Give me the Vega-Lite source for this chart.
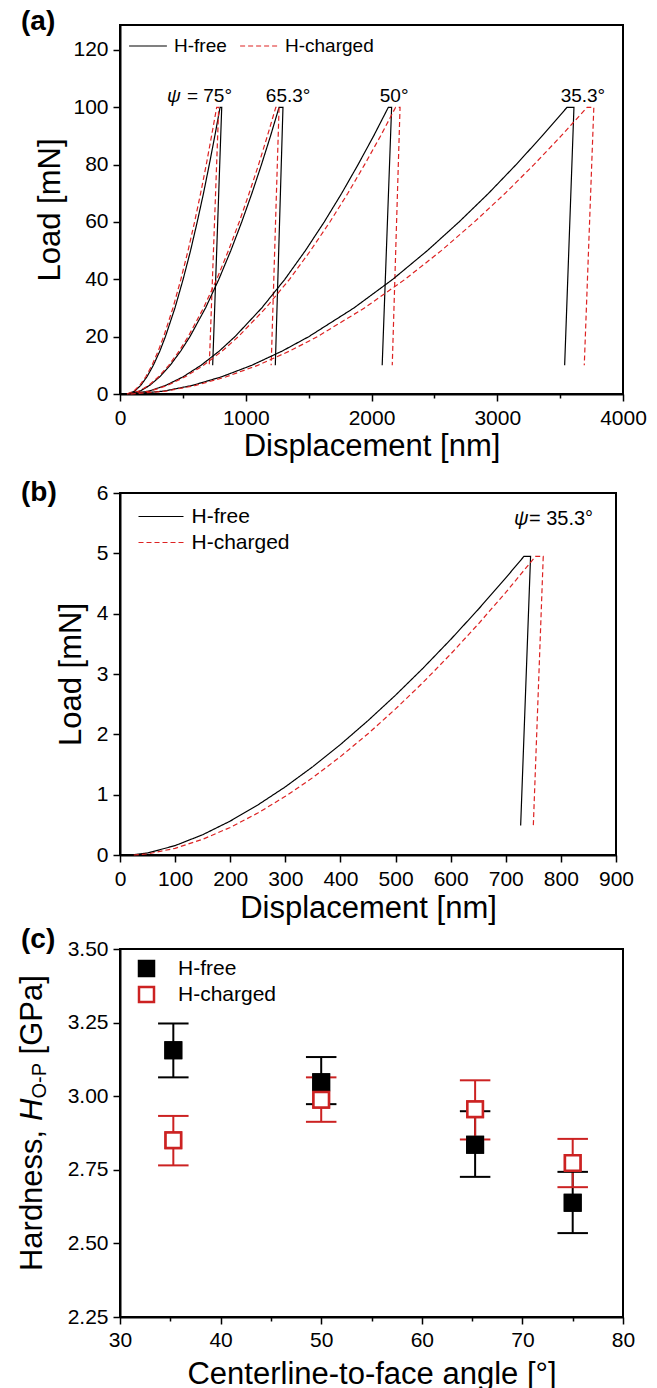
{
"$schema": "https://vega.github.io/schema/vega-lite/v6.json",
"padding": {"left": 16, "top": 7, "right": 5, "bottom": 0},
"config": {
  "font": "Liberation Sans",
  "view": {"stroke": "black", "strokeWidth": 2},
  "axis": {"domainColor": "black", "domainWidth": 2, "tickColor": "black", "tickWidth": 1.5, "labelColor": "black", "titleColor": "black", "labelFont": "Liberation Sans", "titleFont": "Liberation Sans", "labelFontSize": 21, "titleFontSize": 31, "titleFontWeight": "normal", "grid": false, "labelOverlap": false, "labelFlush": false, "labelPadding": 5},
  "legend": {"labelFont": "Liberation Sans", "labelColor": "black", "padding": 0},
  "text": {"font": "Liberation Sans", "color": "black"}
},
"bounds": "flush",
"spacing": 99,
"resolve": {"scale": {"x": "independent", "y": "independent", "color": "independent", "strokeDash": "independent", "fill": "independent", "stroke": "independent"}, "legend": {"color": "independent", "strokeDash": "independent", "fill": "independent", "stroke": "independent"}},
"vconcat": [
{
  "width": 503, "height": 369,
  "data": {"values": [
    {"s":"H-free","a":75,"i":0,"h":60,"P":0},{"s":"H-free","a":75,"i":1,"h":117,"P":1},{"s":"H-free","a":75,"i":2,"h":165,"P":3},{"s":"H-free","a":75,"i":3,"h":214,"P":6},{"s":"H-free","a":75,"i":4,"h":265,"P":10},{"s":"H-free","a":75,"i":5,"h":317,"P":15},{"s":"H-free","a":75,"i":6,"h":361,"P":20},{"s":"H-free","a":75,"i":7,"h":437,"P":30},{"s":"H-free","a":75,"i":8,"h":502,"P":40},{"s":"H-free","a":75,"i":9,"h":561,"P":50},{"s":"H-free","a":75,"i":10,"h":614,"P":60},{"s":"H-free","a":75,"i":11,"h":664,"P":70},{"s":"H-free","a":75,"i":12,"h":710,"P":80},{"s":"H-free","a":75,"i":13,"h":754,"P":90},{"s":"H-free","a":75,"i":14,"h":796,"P":100},{"s":"H-free","a":75,"i":15,"h":809,"P":100},{"s":"H-free","a":75,"i":16,"h":737,"P":10},
    {"s":"H-charged","a":75,"i":0,"h":55,"P":0},{"s":"H-charged","a":75,"i":1,"h":110,"P":1},{"s":"H-charged","a":75,"i":2,"h":157,"P":3},{"s":"H-charged","a":75,"i":3,"h":205,"P":6},{"s":"H-charged","a":75,"i":4,"h":254,"P":10},{"s":"H-charged","a":75,"i":5,"h":304,"P":15},{"s":"H-charged","a":75,"i":6,"h":347,"P":20},{"s":"H-charged","a":75,"i":7,"h":421,"P":30},{"s":"H-charged","a":75,"i":8,"h":484,"P":40},{"s":"H-charged","a":75,"i":9,"h":541,"P":50},{"s":"H-charged","a":75,"i":10,"h":593,"P":60},{"s":"H-charged","a":75,"i":11,"h":641,"P":70},{"s":"H-charged","a":75,"i":12,"h":686,"P":80},{"s":"H-charged","a":75,"i":13,"h":728,"P":90},{"s":"H-charged","a":75,"i":14,"h":769,"P":100},{"s":"H-charged","a":75,"i":15,"h":785,"P":100},{"s":"H-charged","a":75,"i":16,"h":710,"P":10},
    {"s":"H-free","a":65.3,"i":0,"h":65,"P":0},{"s":"H-free","a":65.3,"i":1,"h":158,"P":1},{"s":"H-free","a":65.3,"i":2,"h":236,"P":3},{"s":"H-free","a":65.3,"i":3,"h":316,"P":6},{"s":"H-free","a":65.3,"i":4,"h":399,"P":10},{"s":"H-free","a":65.3,"i":5,"h":483,"P":15},{"s":"H-free","a":65.3,"i":6,"h":556,"P":20},{"s":"H-free","a":65.3,"i":7,"h":680,"P":30},{"s":"H-free","a":65.3,"i":8,"h":786,"P":40},{"s":"H-free","a":65.3,"i":9,"h":881,"P":50},{"s":"H-free","a":65.3,"i":10,"h":968,"P":60},{"s":"H-free","a":65.3,"i":11,"h":1049,"P":70},{"s":"H-free","a":65.3,"i":12,"h":1125,"P":80},{"s":"H-free","a":65.3,"i":13,"h":1197,"P":90},{"s":"H-free","a":65.3,"i":14,"h":1265,"P":100},{"s":"H-free","a":65.3,"i":15,"h":1296,"P":100},{"s":"H-free","a":65.3,"i":16,"h":1235,"P":10},
    {"s":"H-charged","a":65.3,"i":0,"h":60,"P":0},{"s":"H-charged","a":65.3,"i":1,"h":151,"P":1},{"s":"H-charged","a":65.3,"i":2,"h":228,"P":3},{"s":"H-charged","a":65.3,"i":3,"h":307,"P":6},{"s":"H-charged","a":65.3,"i":4,"h":388,"P":10},{"s":"H-charged","a":65.3,"i":5,"h":471,"P":15},{"s":"H-charged","a":65.3,"i":6,"h":542,"P":20},{"s":"H-charged","a":65.3,"i":7,"h":664,"P":30},{"s":"H-charged","a":65.3,"i":8,"h":769,"P":40},{"s":"H-charged","a":65.3,"i":9,"h":862,"P":50},{"s":"H-charged","a":65.3,"i":10,"h":948,"P":60},{"s":"H-charged","a":65.3,"i":11,"h":1027,"P":70},{"s":"H-charged","a":65.3,"i":12,"h":1102,"P":80},{"s":"H-charged","a":65.3,"i":13,"h":1172,"P":90},{"s":"H-charged","a":65.3,"i":14,"h":1239,"P":100},{"s":"H-charged","a":65.3,"i":15,"h":1265,"P":100},{"s":"H-charged","a":65.3,"i":16,"h":1202,"P":10},
    {"s":"H-free","a":50,"i":0,"h":70,"P":0},{"s":"H-free","a":50,"i":1,"h":230,"P":1},{"s":"H-free","a":50,"i":2,"h":364,"P":3},{"s":"H-free","a":50,"i":3,"h":502,"P":6},{"s":"H-free","a":50,"i":4,"h":644,"P":10},{"s":"H-free","a":50,"i":5,"h":790,"P":15},{"s":"H-free","a":50,"i":6,"h":914,"P":20},{"s":"H-free","a":50,"i":7,"h":1127,"P":30},{"s":"H-free","a":50,"i":8,"h":1311,"P":40},{"s":"H-free","a":50,"i":9,"h":1474,"P":50},{"s":"H-free","a":50,"i":10,"h":1624,"P":60},{"s":"H-free","a":50,"i":11,"h":1763,"P":70},{"s":"H-free","a":50,"i":12,"h":1893,"P":80},{"s":"H-free","a":50,"i":13,"h":2017,"P":90},{"s":"H-free","a":50,"i":14,"h":2134,"P":100},{"s":"H-free","a":50,"i":15,"h":2160,"P":100},{"s":"H-free","a":50,"i":16,"h":2085,"P":10},
    {"s":"H-charged","a":50,"i":0,"h":75,"P":0},{"s":"H-charged","a":50,"i":1,"h":239,"P":1},{"s":"H-charged","a":50,"i":2,"h":377,"P":3},{"s":"H-charged","a":50,"i":3,"h":519,"P":6},{"s":"H-charged","a":50,"i":4,"h":664,"P":10},{"s":"H-charged","a":50,"i":5,"h":813,"P":15},{"s":"H-charged","a":50,"i":6,"h":941,"P":20},{"s":"H-charged","a":50,"i":7,"h":1159,"P":30},{"s":"H-charged","a":50,"i":8,"h":1348,"P":40},{"s":"H-charged","a":50,"i":9,"h":1515,"P":50},{"s":"H-charged","a":50,"i":10,"h":1669,"P":60},{"s":"H-charged","a":50,"i":11,"h":1812,"P":70},{"s":"H-charged","a":50,"i":12,"h":1945,"P":80},{"s":"H-charged","a":50,"i":13,"h":2072,"P":90},{"s":"H-charged","a":50,"i":14,"h":2192,"P":100},{"s":"H-charged","a":50,"i":15,"h":2227,"P":100},{"s":"H-charged","a":50,"i":16,"h":2165,"P":10},
    {"s":"H-free","a":35.3,"i":0,"h":80,"P":0},{"s":"H-free","a":35.3,"i":1,"h":349,"P":1},{"s":"H-free","a":35.3,"i":2,"h":576,"P":3},{"s":"H-free","a":35.3,"i":3,"h":808,"P":6},{"s":"H-free","a":35.3,"i":4,"h":1047,"P":10},{"s":"H-free","a":35.3,"i":5,"h":1291,"P":15},{"s":"H-free","a":35.3,"i":6,"h":1501,"P":20},{"s":"H-free","a":35.3,"i":7,"h":1860,"P":30},{"s":"H-free","a":35.3,"i":8,"h":2169,"P":40},{"s":"H-free","a":35.3,"i":9,"h":2444,"P":50},{"s":"H-free","a":35.3,"i":10,"h":2696,"P":60},{"s":"H-free","a":35.3,"i":11,"h":2931,"P":70},{"s":"H-free","a":35.3,"i":12,"h":3150,"P":80},{"s":"H-free","a":35.3,"i":13,"h":3357,"P":90},{"s":"H-free","a":35.3,"i":14,"h":3555,"P":100},{"s":"H-free","a":35.3,"i":15,"h":3610,"P":100},{"s":"H-free","a":35.3,"i":16,"h":3536,"P":10},
    {"s":"H-charged","a":35.3,"i":0,"h":85,"P":0},{"s":"H-charged","a":35.3,"i":1,"h":366,"P":1},{"s":"H-charged","a":35.3,"i":2,"h":603,"P":3},{"s":"H-charged","a":35.3,"i":3,"h":845,"P":6},{"s":"H-charged","a":35.3,"i":4,"h":1095,"P":10},{"s":"H-charged","a":35.3,"i":5,"h":1350,"P":15},{"s":"H-charged","a":35.3,"i":6,"h":1570,"P":20},{"s":"H-charged","a":35.3,"i":7,"h":1944,"P":30},{"s":"H-charged","a":35.3,"i":8,"h":2267,"P":40},{"s":"H-charged","a":35.3,"i":9,"h":2555,"P":50},{"s":"H-charged","a":35.3,"i":10,"h":2818,"P":60},{"s":"H-charged","a":35.3,"i":11,"h":3063,"P":70},{"s":"H-charged","a":35.3,"i":12,"h":3292,"P":80},{"s":"H-charged","a":35.3,"i":13,"h":3508,"P":90},{"s":"H-charged","a":35.3,"i":14,"h":3715,"P":100},{"s":"H-charged","a":35.3,"i":15,"h":3768,"P":100},{"s":"H-charged","a":35.3,"i":16,"h":3692,"P":10}
  ]},
  "layer": [
    {
      "mark": {"type": "line", "strokeWidth": 1.2},
      "encoding": {
        "x": {"field": "h", "type": "quantitative", "scale": {"domain": [0, 4000], "nice": false, "zero": false},
              "axis": {"title": "Displacement [nm]", "values": [0,500,1000,1500,2000,2500,3000,3500,4000], "format": "d", "labelExpr": "datum.value % 1000 == 0 ? datum.label : ''", "tickSize": {"condition": {"test": "datum.value % 1000 != 0", "value": 4}, "value": 7}, "labelPadding": 6, "titlePadding": 3}},
        "y": {"field": "P", "type": "quantitative", "scale": {"domain": [0, 128.7], "nice": false},
              "axis": {"title": "Load [mN]", "values": [0,10,20,30,40,50,60,70,80,90,100,110,120], "format": "d", "labelExpr": "datum.value % 20 == 0 ? datum.label : ''", "tickSize": {"condition": {"test": "datum.value % 20 != 0", "value": 4}, "value": 7}, "titlePadding": 6}},
        "color": {"field": "s", "type": "nominal", "scale": {"domain": ["H-free", "H-charged"], "range": ["black", "#dd2222"]},
                  "legend": {"orient": "none", "legendX": 8, "legendY": 11, "direction": "horizontal", "title": null, "symbolType": "M-2.1,0H2.1", "symbolSize": 324, "symbolOffset": 10, "labelOffset": 16, "labelFontSize": 19, "symbolStrokeWidth": 1.2, "columnPadding": 10}},
        "strokeDash": {"field": "s", "type": "nominal", "scale": {"domain": ["H-free", "H-charged"], "range": [[1, 0], [5, 3]]},
                  "legend": {"orient": "none", "legendX": 8, "legendY": 11, "direction": "horizontal", "title": null, "symbolType": "M-2.1,0H2.1", "symbolSize": 324, "symbolOffset": 10, "labelOffset": 16, "labelFontSize": 19, "symbolStrokeWidth": 1.2, "columnPadding": 10}},
        "detail": {"field": "a", "type": "nominal"},
        "order": {"field": "i", "type": "quantitative"}
      }
    },
    {
      "data": {"values": [{"h": 374, "P": 102, "t": "ψ"}]},
      "mark": {"type": "text", "fontStyle": "italic", "fontSize": 19, "align": "left", "baseline": "alphabetic"},
      "encoding": {"x": {"field": "h", "type": "quantitative"}, "y": {"field": "P", "type": "quantitative"}, "text": {"field": "t"}}
    },
    {
      "data": {"values": [{"h": 532, "P": 102, "t": "= 75°"}, {"h": 1160, "P": 102, "t": "65.3°"}, {"h": 2066, "P": 102, "t": "50°"}, {"h": 3504, "P": 102, "t": "35.3°"}]},
      "mark": {"type": "text", "fontSize": 19, "align": "left", "baseline": "alphabetic"},
      "encoding": {"x": {"field": "h", "type": "quantitative"}, "y": {"field": "P", "type": "quantitative"}, "text": {"field": "t"}}
    },
    {
      "data": {"values": [{"h": -787, "P": 126.9, "t": "(a)"}]},
      "mark": {"type": "text", "fontSize": 28, "fontWeight": "bold", "align": "left", "baseline": "alphabetic"},
      "encoding": {"x": {"field": "h", "type": "quantitative"}, "y": {"field": "P", "type": "quantitative"}, "text": {"field": "t"}}
    }
  ]
},
{
  "bounds": "flush",
  "spacing": 94,
  "resolve": {"scale": {"x": "independent", "y": "independent", "color": "independent", "strokeDash": "independent", "fill": "independent", "stroke": "independent"}, "legend": {"color": "independent", "strokeDash": "independent", "fill": "independent", "stroke": "independent"}},
  "vconcat": [
  {
    "width": 496, "height": 362,
    "data": {"values": [
      {"s":"H-free","i":0,"h":20,"P":0},{"s":"H-free","i":1,"h":50,"P":0.033},{"s":"H-free","i":2,"h":100,"P":0.156},{"s":"H-free","i":3,"h":150,"P":0.336},{"s":"H-free","i":4,"h":200,"P":0.562},{"s":"H-free","i":5,"h":250,"P":0.829},{"s":"H-free","i":6,"h":300,"P":1.13},{"s":"H-free","i":7,"h":350,"P":1.465},{"s":"H-free","i":8,"h":400,"P":1.831},{"s":"H-free","i":9,"h":450,"P":2.227},{"s":"H-free","i":10,"h":500,"P":2.649},{"s":"H-free","i":11,"h":550,"P":3.098},{"s":"H-free","i":12,"h":600,"P":3.572},{"s":"H-free","i":13,"h":650,"P":4.07},{"s":"H-free","i":14,"h":700,"P":4.593},{"s":"H-free","i":15,"h":733,"P":4.95},{"s":"H-free","i":16,"h":745,"P":4.95},{"s":"H-free","i":17,"h":727,"P":0.49},
      {"s":"H-charged","i":0,"h":25,"P":0},{"s":"H-charged","i":1,"h":50,"P":0.018},{"s":"H-charged","i":2,"h":100,"P":0.111},{"s":"H-charged","i":3,"h":150,"P":0.261},{"s":"H-charged","i":4,"h":200,"P":0.457},{"s":"H-charged","i":5,"h":250,"P":0.695},{"s":"H-charged","i":6,"h":300,"P":0.972},{"s":"H-charged","i":7,"h":350,"P":1.284},{"s":"H-charged","i":8,"h":400,"P":1.631},{"s":"H-charged","i":9,"h":450,"P":2.01},{"s":"H-charged","i":10,"h":500,"P":2.421},{"s":"H-charged","i":11,"h":550,"P":2.861},{"s":"H-charged","i":12,"h":600,"P":3.33},{"s":"H-charged","i":13,"h":650,"P":3.827},{"s":"H-charged","i":14,"h":700,"P":4.352},{"s":"H-charged","i":15,"h":754,"P":4.95},{"s":"H-charged","i":16,"h":768,"P":4.95},{"s":"H-charged","i":17,"h":750,"P":0.49}
    ]},
    "layer": [
      {
        "mark": {"type": "line", "strokeWidth": 1.2},
        "encoding": {
          "x": {"field": "h", "type": "quantitative", "scale": {"domain": [0, 900], "nice": false, "zero": false},
                "axis": {"title": "Displacement [nm]", "values": [0,50,100,150,200,250,300,350,400,450,500,550,600,650,700,750,800,850,900], "format": "d", "labelExpr": "datum.value % 100 == 0 ? datum.label : ''", "tickSize": {"condition": {"test": "datum.value % 100 != 0", "value": 4}, "value": 7}, "labelPadding": 6, "titlePadding": 4}},
          "y": {"field": "P", "type": "quantitative", "scale": {"domain": [0, 6], "nice": false},
                "axis": {"title": "Load [mN]", "values": [0,0.5,1,1.5,2,2.5,3,3.5,4,4.5,5,5.5,6], "format": ".0f", "labelExpr": "datum.value % 1 == 0 ? datum.label : ''", "tickSize": {"condition": {"test": "datum.value % 1 != 0", "value": 4}, "value": 7}, "titlePadding": 9}},
          "color": {"field": "s", "type": "nominal", "scale": {"domain": ["H-free", "H-charged"], "range": ["black", "#dd2222"]},
                    "legend": {"orient": "none", "legendX": 17, "legendY": 13, "direction": "vertical", "title": null, "symbolType": "M-2.5,0H2.5", "symbolSize": 324, "symbolOffset": 13.5, "labelOffset": 20, "labelFontSize": 21, "symbolStrokeWidth": 1.2, "rowPadding": 4}},
          "strokeDash": {"field": "s", "type": "nominal", "scale": {"domain": ["H-free", "H-charged"], "range": [[1, 0], [5, 3]]},
                    "legend": {"orient": "none", "legendX": 17, "legendY": 13, "direction": "vertical", "title": null, "symbolType": "M-2.5,0H2.5", "symbolSize": 324, "symbolOffset": 13.5, "labelOffset": 20, "labelFontSize": 21, "symbolStrokeWidth": 1.2, "rowPadding": 4}},
          "order": {"field": "i", "type": "quantitative"}
        }
      },
      {
        "data": {"values": [{"h": 715, "P": 5.475, "t": "ψ"}]},
        "mark": {"type": "text", "fontStyle": "italic", "fontSize": 20, "align": "left", "baseline": "alphabetic"},
        "encoding": {"x": {"field": "h", "type": "quantitative"}, "y": {"field": "P", "type": "quantitative"}, "text": {"field": "t"}}
      },
      {
        "data": {"values": [{"h": 742, "P": 5.475, "t": "= 35.3°"}]},
        "mark": {"type": "text", "fontSize": 20, "align": "left", "baseline": "alphabetic"},
        "encoding": {"x": {"field": "h", "type": "quantitative"}, "y": {"field": "P", "type": "quantitative"}, "text": {"field": "t"}}
      },
      {
        "data": {"values": [{"h": -179.6, "P": 5.867, "t": "(b)"}]},
        "mark": {"type": "text", "fontSize": 28, "fontWeight": "bold", "align": "left", "baseline": "alphabetic"},
        "encoding": {"x": {"field": "h", "type": "quantitative"}, "y": {"field": "P", "type": "quantitative"}, "text": {"field": "t"}}
      }
    ]
  },
  {
    "width": 503, "height": 368,
    "data": {"values": [
      {"s": "H-free", "ang": 35.3, "H": 3.156, "lo": 3.064, "hi": 3.247},
      {"s": "H-free", "ang": 50, "H": 3.047, "lo": 2.973, "hi": 3.133},
      {"s": "H-free", "ang": 65.3, "H": 2.835, "lo": 2.726, "hi": 2.949},
      {"s": "H-free", "ang": 75, "H": 2.638, "lo": 2.535, "hi": 2.743},
      {"s": "H-charged", "ang": 35.3, "H": 2.85, "lo": 2.765, "hi": 2.933},
      {"s": "H-charged", "ang": 50, "H": 2.988, "lo": 2.913, "hi": 3.064},
      {"s": "H-charged", "ang": 65.3, "H": 2.956, "lo": 2.853, "hi": 3.054},
      {"s": "H-charged", "ang": 75, "H": 2.773, "lo": 2.691, "hi": 2.855}
    ]},
    "layer": [
      {
        "mark": {"type": "point", "shape": "square", "size": 240, "strokeWidth": 2.5, "opacity": 1, "filled": true},
        "encoding": {
          "x": {"field": "ang", "type": "quantitative", "scale": {"domain": [30, 80], "nice": false, "zero": false},
                "axis": {"title": "Centerline-to-face angle [°]", "values": [30,35,40,45,50,55,60,65,70,75,80], "format": "d", "labelExpr": "datum.value % 10 == 0 ? datum.label : ''", "tickSize": {"condition": {"test": "datum.value % 10 != 0", "value": 4}, "value": 7}, "labelPadding": 5, "titlePadding": 9}},
          "y": {"field": "H", "type": "quantitative", "scale": {"domain": [2.25, 3.5], "nice": false, "zero": false},
                "axis": {"title": null, "values": [2.25,2.375,2.5,2.625,2.75,2.875,3,3.125,3.25,3.375,3.5], "format": ".2f", "labelExpr": "(datum.value * 4) % 1 == 0 ? datum.label : ''", "tickSize": {"condition": {"test": "(datum.value * 4) % 1 != 0", "value": 4}, "value": 7}}},
          "fill": {"field": "s", "type": "nominal", "scale": {"domain": ["H-free", "H-charged"], "range": ["black", "white"]},
                   "legend": {"orient": "none", "legendX": 16, "legendY": 9, "direction": "vertical", "title": null, "symbolType": "square", "symbolSize": 225, "symbolStrokeWidth": 2.5, "symbolOpacity": 1, "labelOffset": 21, "labelFontSize": 21, "rowPadding": 1}},
          "stroke": {"field": "s", "type": "nominal", "scale": {"domain": ["H-free", "H-charged"], "range": ["black", "#cc2222"]},
                   "legend": {"orient": "none", "legendX": 16, "legendY": 9, "direction": "vertical", "title": null, "symbolType": "square", "symbolSize": 225, "symbolStrokeWidth": 2.5, "symbolOpacity": 1, "labelOffset": 21, "labelFontSize": 21, "rowPadding": 1}}
        }
      },
      {
        "mark": {"type": "rule", "strokeWidth": 2},
        "encoding": {
          "x": {"field": "ang", "type": "quantitative"},
          "y": {"field": "lo", "type": "quantitative"},
          "y2": {"field": "hi"},
          "stroke": {"field": "s", "type": "nominal"}
        }
      },
      {
        "mark": {"type": "tick", "orient": "horizontal", "size": 29, "thickness": 0.5, "strokeWidth": 1.5, "filled": false, "opacity": 1},
        "encoding": {
          "x": {"field": "ang", "type": "quantitative"},
          "y": {"field": "lo", "type": "quantitative"},
          "stroke": {"field": "s", "type": "nominal"}
        }
      },
      {
        "mark": {"type": "tick", "orient": "horizontal", "size": 29, "thickness": 0.5, "strokeWidth": 1.5, "filled": false, "opacity": 1},
        "encoding": {
          "x": {"field": "ang", "type": "quantitative"},
          "y": {"field": "hi", "type": "quantitative"},
          "stroke": {"field": "s", "type": "nominal"}
        }
      },
      {
        "mark": {"type": "point", "shape": "square", "size": 240, "strokeWidth": 2.5, "opacity": 1, "filled": true},
        "encoding": {
          "x": {"field": "ang", "type": "quantitative"},
          "y": {"field": "H", "type": "quantitative"},
          "fill": {"field": "s", "type": "nominal"},
          "stroke": {"field": "s", "type": "nominal"}
        }
      },
      {
        "data": {"values": [{"x": 22.25, "y": 2.406, "t": "Hardness,"}, {"x": 22.25, "y": 3.142, "t": "[GPa]"}]},
        "mark": {"type": "text", "fontSize": 31, "angle": 270, "align": "left", "baseline": "alphabetic"},
        "encoding": {"x": {"field": "x", "type": "quantitative"}, "y": {"field": "y", "type": "quantitative"}, "text": {"field": "t"}}
      },
      {
        "data": {"values": [{"x": 22.25, "y": 2.916, "t": "H"}]},
        "mark": {"type": "text", "fontSize": 31, "fontStyle": "italic", "angle": 270, "align": "left", "baseline": "alphabetic"},
        "encoding": {"x": {"field": "x", "type": "quantitative"}, "y": {"field": "y", "type": "quantitative"}, "text": {"field": "t"}}
      },
      {
        "data": {"values": [{"x": 22.6, "y": 2.992, "t": "O-P"}]},
        "mark": {"type": "text", "fontSize": 20, "angle": 270, "align": "left", "baseline": "alphabetic"},
        "encoding": {"x": {"field": "x", "type": "quantitative"}, "y": {"field": "y", "type": "quantitative"}, "text": {"field": "t"}}
      },
      {
        "data": {"values": [{"x": 20.16, "y": 3.505, "t": "(c)"}]},
        "mark": {"type": "text", "fontSize": 28, "fontWeight": "bold", "align": "left", "baseline": "alphabetic"},
        "encoding": {"x": {"field": "x", "type": "quantitative"}, "y": {"field": "y", "type": "quantitative"}, "text": {"field": "t"}}
      }
    ]
  }
  ]
}
]
}
